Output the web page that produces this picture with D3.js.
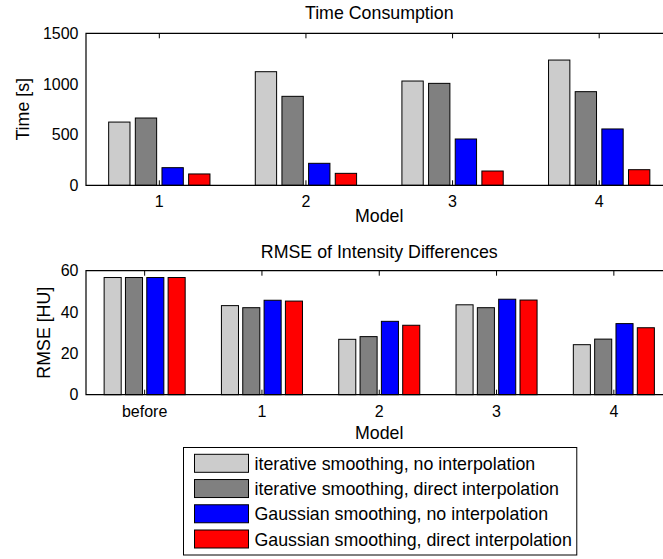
<!DOCTYPE html>
<html>
<head>
<meta charset="utf-8">
<script src="https://cdn.jsdelivr.net/npm/d3@7"></script>
<style>
  html, body { margin: 0; padding: 0; background: #fff; }
  svg { display: block; }
  text { font-family: "Liberation Sans", Arial, Helvetica, sans-serif; fill: #000; }
</style>
</head>
<body>
<svg id="chart" width="663" height="559"></svg>
<script>
// ---- data ----
const seriesNames = [
  "iterative smoothing, no interpolation",
  "iterative smoothing, direct interpolation",
  "Gaussian smoothing, no interpolation",
  "Gaussian smoothing, direct interpolation"
];
const seriesColors = ["#cccccc", "#808080", "#0000ff", "#ff0000"];

const timeModels = ["1", "2", "3", "4"];
const timeIterNoInterp   = [624, 1121, 1029, 1236];
const timeIterDirect     = [664, 878, 1006, 924];
const timeGaussNoInterp  = [174, 217, 457, 556];
const timeGaussDirect    = [112, 118, 141, 154];
const timeTicks = [0, 500, 1000, 1500];

const rmseModels = ["before", "1", "2", "3", "4"];
const rmseIterNoInterp   = [56.7, 43.1, 26.8, 43.5, 24.2];
const rmseIterDirect     = [56.7, 42.1, 28.1, 42.1, 26.9];
const rmseGaussNoInterp  = [56.7, 45.7, 35.5, 46.2, 34.4];
const rmseGaussDirect    = [56.7, 45.3, 33.6, 45.8, 32.4];
const rmseTicks = [0, 20, 40, 60];

// ---- layout ----
const svg = d3.select("#chart");
const axLeft = 86, axRight = 672.5;
const tickFont = 16, labelFont = 17.8;

// grouped-bar geometry (4 series per group, in category units)
const nSeries = 4;
const groupWidth = Math.min(0.8, nSeries / (nSeries + 1.5));
const slot = groupWidth / nSeries;
const barW = 0.8 * slot;
const offsets = d3.range(nSeries).map(i => (i - (nSeries - 1) / 2) * slot);

function drawPanel(cfg) {
  const n = cfg.categories.length;
  const x = d3.scaleLinear().domain([0.5, n + 0.5]).range([axLeft, axRight]);
  const y = d3.scaleLinear().domain(cfg.yDomain).range([cfg.bottom, cfg.top]);
  const g = svg.append("g");

  // x ticks, inward at bottom and top (drawn beneath the bars)
  const idx = d3.range(1, n + 1);
  g.selectAll(".tb").data(idx).join("line")
    .attr("x1", d => x(d)).attr("x2", d => x(d))
    .attr("y1", cfg.bottom).attr("y2", cfg.bottom - 5)
    .attr("stroke", "#000").attr("stroke-width", 1);
  g.selectAll(".tt").data(idx).join("line")
    .attr("x1", d => x(d)).attr("x2", d => x(d))
    .attr("y1", cfg.top).attr("y2", cfg.top + 5)
    .attr("stroke", "#000").attr("stroke-width", 1);

  // bars
  cfg.series.forEach((vals, s) => {
    g.selectAll(null).data(vals).join("rect")
      .attr("x", (d, i) => x(i + 1 + offsets[s] - barW / 2))
      .attr("width", x(barW) - x(0))
      .attr("y", d => y(d))
      .attr("height", d => y(0) - y(d))
      .attr("fill", seriesColors[s])
      .attr("stroke", "#000")
      .attr("stroke-width", 1);
  });

  // axes box lines (left, top, bottom)
  g.append("path")
    .attr("d", `M${axRight + 2},${cfg.top}H${axLeft}V${cfg.bottom}H${axRight + 2}`)
    .attr("fill", "none").attr("stroke", "#000").attr("stroke-width", 1.2);

  // y tick labels
  g.selectAll(".yl").data(cfg.yTicks).join("text")
    .attr("x", axLeft - 7.5).attr("y", d => y(d))
    .attr("dy", "0.36em")
    .attr("text-anchor", "end")
    .attr("font-size", tickFont)
    .text(d => d);

  // x tick labels
  g.selectAll(".xl").data(cfg.categories).join("text")
    .attr("x", (d, i) => x(i + 1)).attr("y", cfg.bottom + 22)
    .attr("text-anchor", "middle")
    .attr("font-size", tickFont)
    .text(d => d);

  // x label
  g.append("text")
    .attr("x", (axLeft + axRight) / 2).attr("y", cfg.xLabelY)
    .attr("text-anchor", "middle").attr("font-size", labelFont)
    .text("Model");

  // y label
  g.append("text")
    .attr("transform", `translate(${cfg.yLabelX},${(cfg.top + cfg.bottom) / 2}) rotate(-90)`)
    .attr("text-anchor", "middle").attr("font-size", labelFont)
    .text(cfg.yLabel);

  // title
  g.append("text")
    .attr("x", (axLeft + axRight) / 2).attr("y", cfg.titleY)
    .attr("text-anchor", "middle").attr("font-size", labelFont)
    .text(cfg.title);
}

drawPanel({
  categories: timeModels,
  series: [timeIterNoInterp, timeIterDirect, timeGaussNoInterp, timeGaussDirect],
  yDomain: [0, 1500], yTicks: timeTicks,
  top: 33.3, bottom: 185.3,
  title: "Time Consumption", titleY: 19,
  yLabel: "Time [s]", yLabelX: 29,
  xLabelY: 221.5
});

drawPanel({
  categories: rmseModels,
  series: [rmseIterNoInterp, rmseIterDirect, rmseGaussNoInterp, rmseGaussDirect],
  yDomain: [0, 60], yTicks: rmseTicks,
  top: 270.7, bottom: 394.7,
  title: "RMSE of Intensity Differences", titleY: 257.5,
  yLabel: "RMSE [HU]", yLabelX: 49.5,
  xLabelY: 439
});

// ---- legend ----
const leg = svg.append("g");
const legLeft = 183.5, legTop = 447.5, legBottom = 555;
const legBox = leg.append("rect")
  .attr("x", legLeft).attr("y", legTop)
  .attr("height", legBottom - legTop)
  .attr("fill", "#fff").attr("stroke", "#000").attr("stroke-width", 1);
const rowY = d3.scaleLinear().domain([0, 3]).range([463.3, 539]);
let textEnd = 0;
seriesNames.forEach((name, i) => {
  leg.append("rect")
    .attr("x", 194.5).attr("y", rowY(i) - 9)
    .attr("width", 54).attr("height", 18)
    .attr("fill", seriesColors[i]).attr("stroke", "#000").attr("stroke-width", 1);
  const t = leg.append("text")
    .attr("x", 254.5).attr("y", rowY(i) + 6.5)
    .attr("font-size", labelFont)
    .text(name);
  textEnd = Math.max(textEnd, 254.5 + t.node().getComputedTextLength());
});
legBox.attr("width", textEnd + 5 - legLeft);
</script>
</body>
</html>
